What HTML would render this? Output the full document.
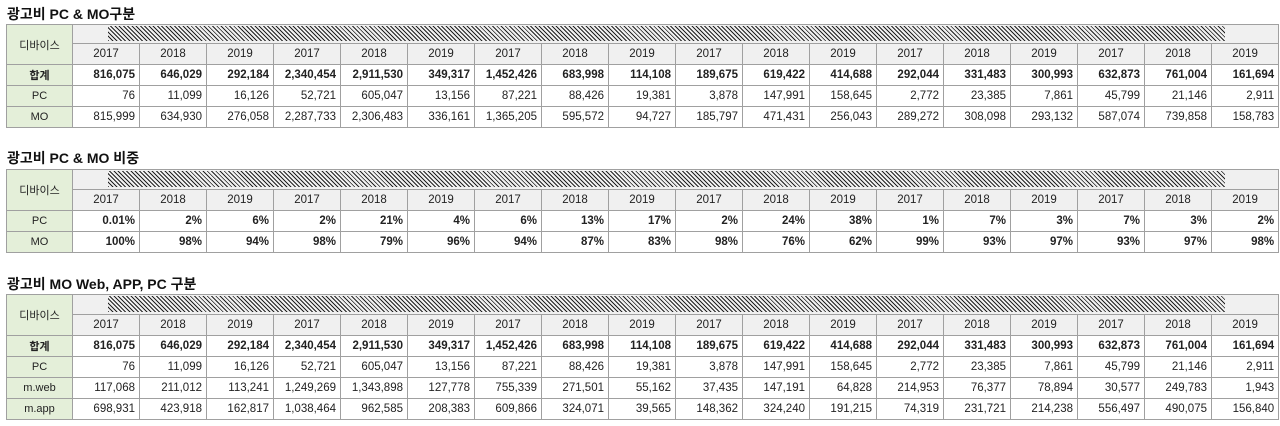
<!DOCTYPE html>
<html><head><meta charset="utf-8"><style>
body{margin:0;width:1280px;height:426px;background:#fff;font-family:"Liberation Sans","Noto Sans CJK KR","NanumGothic",sans-serif;position:relative;overflow:hidden}
.t{position:absolute;left:7px;font-size:14px;font-weight:bold;color:#111}
table{position:absolute;left:6px;border-collapse:collapse;table-layout:fixed;width:1270px;font-size:11.5px;color:#222}
td{border:1px solid #a0a0a0;padding:0 4px;text-align:right;white-space:nowrap;overflow:hidden}
td.l{background:#e4efd9;text-align:center;font-size:11px}
tr.y td{background:#f0f0f0;text-align:center}
td.h{background:#f0f0f0;padding:0;position:relative}
td.h div{position:absolute;left:35px;right:53px;top:1px;bottom:2px;background:repeating-linear-gradient(45deg,#222 0 1px,#f0f0f0 1px 3px)}
tr.b td{font-weight:bold}
</style></head><body>
<div class="t" style="top:4px">광고비 PC &amp; MO구분</div>
<table style="top:24px">
<colgroup><col style="width:66px"><col span="18" style="width:67px"></colgroup>
<tr style="height:19px"><td class="l" rowspan="2">디바이스</td><td class="h" colspan="18"><div></div></td></tr>
<tr class="y" style="height:21px"><td>2017</td><td>2018</td><td>2019</td><td>2017</td><td>2018</td><td>2019</td><td>2017</td><td>2018</td><td>2019</td><td>2017</td><td>2018</td><td>2019</td><td>2017</td><td>2018</td><td>2019</td><td>2017</td><td>2018</td><td>2019</td></tr>
<tr class="b" style="height:21px"><td class="l">합계</td><td>816,075</td><td>646,029</td><td>292,184</td><td>2,340,454</td><td>2,911,530</td><td>349,317</td><td>1,452,426</td><td>683,998</td><td>114,108</td><td>189,675</td><td>619,422</td><td>414,688</td><td>292,044</td><td>331,483</td><td>300,993</td><td>632,873</td><td>761,004</td><td>161,694</td></tr>
<tr style="height:21px"><td class="l">PC</td><td>76</td><td>11,099</td><td>16,126</td><td>52,721</td><td>605,047</td><td>13,156</td><td>87,221</td><td>88,426</td><td>19,381</td><td>3,878</td><td>147,991</td><td>158,645</td><td>2,772</td><td>23,385</td><td>7,861</td><td>45,799</td><td>21,146</td><td>2,911</td></tr>
<tr style="height:21px"><td class="l">MO</td><td>815,999</td><td>634,930</td><td>276,058</td><td>2,287,733</td><td>2,306,483</td><td>336,161</td><td>1,365,205</td><td>595,572</td><td>94,727</td><td>185,797</td><td>471,431</td><td>256,043</td><td>289,272</td><td>308,098</td><td>293,132</td><td>587,074</td><td>739,858</td><td>158,783</td></tr>
</table>

<div class="t" style="top:148px">광고비 PC &amp; MO 비중</div>
<table style="top:169px">
<colgroup><col style="width:66px"><col span="18" style="width:67px"></colgroup>
<tr style="height:20px"><td class="l" rowspan="2">디바이스</td><td class="h" colspan="18"><div></div></td></tr>
<tr class="y" style="height:21px"><td>2017</td><td>2018</td><td>2019</td><td>2017</td><td>2018</td><td>2019</td><td>2017</td><td>2018</td><td>2019</td><td>2017</td><td>2018</td><td>2019</td><td>2017</td><td>2018</td><td>2019</td><td>2017</td><td>2018</td><td>2019</td></tr>
<tr class="b" style="height:21px"><td class="l" style="font-weight:normal">PC</td><td>0.01%</td><td>2%</td><td>6%</td><td>2%</td><td>21%</td><td>4%</td><td>6%</td><td>13%</td><td>17%</td><td>2%</td><td>24%</td><td>38%</td><td>1%</td><td>7%</td><td>3%</td><td>7%</td><td>3%</td><td>2%</td></tr>
<tr class="b" style="height:21px"><td class="l" style="font-weight:normal">MO</td><td>100%</td><td>98%</td><td>94%</td><td>98%</td><td>79%</td><td>96%</td><td>94%</td><td>87%</td><td>83%</td><td>98%</td><td>76%</td><td>62%</td><td>99%</td><td>93%</td><td>97%</td><td>93%</td><td>97%</td><td>98%</td></tr>
</table>

<div class="t" style="top:274px">광고비 MO Web, APP, PC 구분</div>
<table style="top:294px">
<colgroup><col style="width:66px"><col span="18" style="width:67px"></colgroup>
<tr style="height:20px"><td class="l" rowspan="2">디바이스</td><td class="h" colspan="18"><div></div></td></tr>
<tr class="y" style="height:21px"><td>2017</td><td>2018</td><td>2019</td><td>2017</td><td>2018</td><td>2019</td><td>2017</td><td>2018</td><td>2019</td><td>2017</td><td>2018</td><td>2019</td><td>2017</td><td>2018</td><td>2019</td><td>2017</td><td>2018</td><td>2019</td></tr>
<tr class="b" style="height:21px"><td class="l">합계</td><td>816,075</td><td>646,029</td><td>292,184</td><td>2,340,454</td><td>2,911,530</td><td>349,317</td><td>1,452,426</td><td>683,998</td><td>114,108</td><td>189,675</td><td>619,422</td><td>414,688</td><td>292,044</td><td>331,483</td><td>300,993</td><td>632,873</td><td>761,004</td><td>161,694</td></tr>
<tr style="height:21px"><td class="l">PC</td><td>76</td><td>11,099</td><td>16,126</td><td>52,721</td><td>605,047</td><td>13,156</td><td>87,221</td><td>88,426</td><td>19,381</td><td>3,878</td><td>147,991</td><td>158,645</td><td>2,772</td><td>23,385</td><td>7,861</td><td>45,799</td><td>21,146</td><td>2,911</td></tr>
<tr style="height:21px"><td class="l">m.web</td><td>117,068</td><td>211,012</td><td>113,241</td><td>1,249,269</td><td>1,343,898</td><td>127,778</td><td>755,339</td><td>271,501</td><td>55,162</td><td>37,435</td><td>147,191</td><td>64,828</td><td>214,953</td><td>76,377</td><td>78,894</td><td>30,577</td><td>249,783</td><td>1,943</td></tr>
<tr style="height:21px"><td class="l">m.app</td><td>698,931</td><td>423,918</td><td>162,817</td><td>1,038,464</td><td>962,585</td><td>208,383</td><td>609,866</td><td>324,071</td><td>39,565</td><td>148,362</td><td>324,240</td><td>191,215</td><td>74,319</td><td>231,721</td><td>214,238</td><td>556,497</td><td>490,075</td><td>156,840</td></tr>
</table>
</body></html>
